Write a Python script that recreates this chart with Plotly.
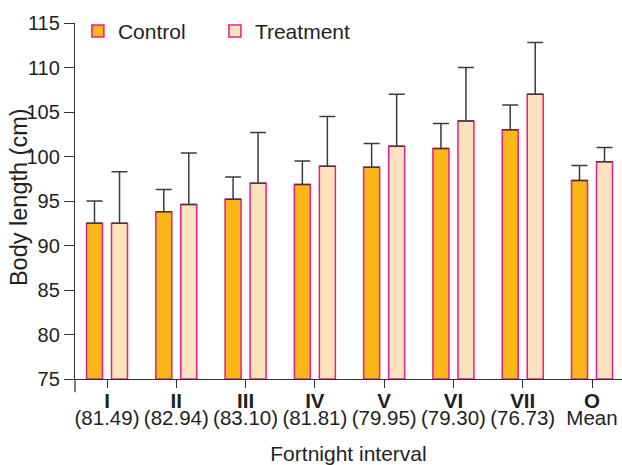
import plotly.graph_objects as go

roman = ["I", "II", "III", "IV", "V", "VI", "VII", "O"]
sub_labels = ["(81.49)", "(82.94)", "(83.10)", "(81.81)", "(79.95)", "(79.30)", "(76.73)", "Mean"]
control = [92.5, 93.8, 95.2, 96.85, 98.8, 100.9, 103.0, 97.3]
control_err = [2.5, 2.5, 2.5, 2.65, 2.65, 2.8, 2.8, 1.7]
treatment = [92.5, 94.6, 97.0, 98.9, 101.15, 104.0, 107.0, 99.4]
treatment_err = [5.8, 5.8, 5.7, 5.6, 5.85, 6.0, 5.8, 1.6]

FONT = "Liberation Sans, Arial, sans-serif"
TXT = "#231F20"
xs = list(range(len(roman)))

fig = go.Figure()
fig.add_trace(go.Bar(
    x=xs, y=[v - 75 for v in control], base=75, name="Control",
    marker=dict(color="#FBB617", line=dict(color="#EC1C86", width=1.5)),
    error_y=dict(type="data", array=control_err, arrayminus=[0]*len(control),
                 color="#3C3C3C", thickness=1.5, width=8),
))
fig.add_trace(go.Bar(
    x=xs, y=[v - 75 for v in treatment], base=75, name="Treatment",
    marker=dict(color="#FDE3BD", line=dict(color="#EC1C86", width=1.5)),
    error_y=dict(type="data", array=treatment_err, arrayminus=[0]*len(treatment),
                 color="#3C3C3C", thickness=1.5, width=8),
))

xrange = [-0.462, 7.433]
fig.update_layout(
    width=622, height=465,
    margin=dict(l=75, r=0, t=23, b=86, autoexpand=False),
    paper_bgcolor="white", plot_bgcolor="white",
    barmode="group", bargap=0.278, bargroupgap=0.36,
    font=dict(family=FONT, size=20, color=TXT),
    showlegend=True,
    legend=dict(orientation="h", x=0.0053, y=1.034, xanchor="left", yanchor="top",
                font=dict(size=21, color=TXT), entrywidth=92, entrywidthmode="pixels",
                bgcolor="rgba(0,0,0,0)", traceorder="normal"),
    xaxis=dict(range=xrange, tickmode="array", tickvals=xs,
               ticktext=[f"<b>{r}</b>" for r in roman],
               ticks="outside", ticklen=8, tickwidth=1.3, tickcolor="#333",
               showline=True, linecolor="#333", linewidth=1.3,
               showgrid=False, zeroline=False, automargin=False,
               ticklabelstandoff=-5,
               tickfont=dict(size=20.5, color=TXT)),
    xaxis2=dict(range=xrange, overlaying="x", anchor="y", side="bottom",
                tickmode="array", tickvals=xs, ticktext=sub_labels,
                ticks="", showline=False, showgrid=False, zeroline=False,
                ticklabelstandoff=24, automargin=False,
                tickfont=dict(size=20.5, color=TXT),
                title=dict(text="Fortnight interval", font=dict(size=21, color=TXT), standoff=19)),
    yaxis=dict(range=[75, 115], tickmode="linear", tick0=75, dtick=5,
               ticks="outside", ticklen=10, tickwidth=1.3, tickcolor="#333",
               showline=True, linecolor="#333", linewidth=1.3,
               showgrid=False, zeroline=False, automargin=False,
               tickfont=dict(size=20, color=TXT)),
    annotations=[dict(text="Body length (cm)", textangle=-90, xref="paper", yref="paper",
                      x=-0.1024, y=0.511, xanchor="center", yanchor="middle",
                      showarrow=False, font=dict(size=23.5, color=TXT))],
)
# invisible trace to activate xaxis2
fig.add_trace(go.Scatter(x=[xs[0]], y=[75], xaxis="x2", mode="markers",
                         marker=dict(opacity=0), showlegend=False, hoverinfo="skip"))
# y-axis line extension below the x-axis
fig.add_shape(type="line", xref="paper", yref="paper", x0=0, x1=0, y0=0, y1=-0.037,
              line=dict(color="#333", width=1.3))
fig.write_html("out.html", config={"displayModeBar": False},
               post_script="document.body.style.margin='0';")
